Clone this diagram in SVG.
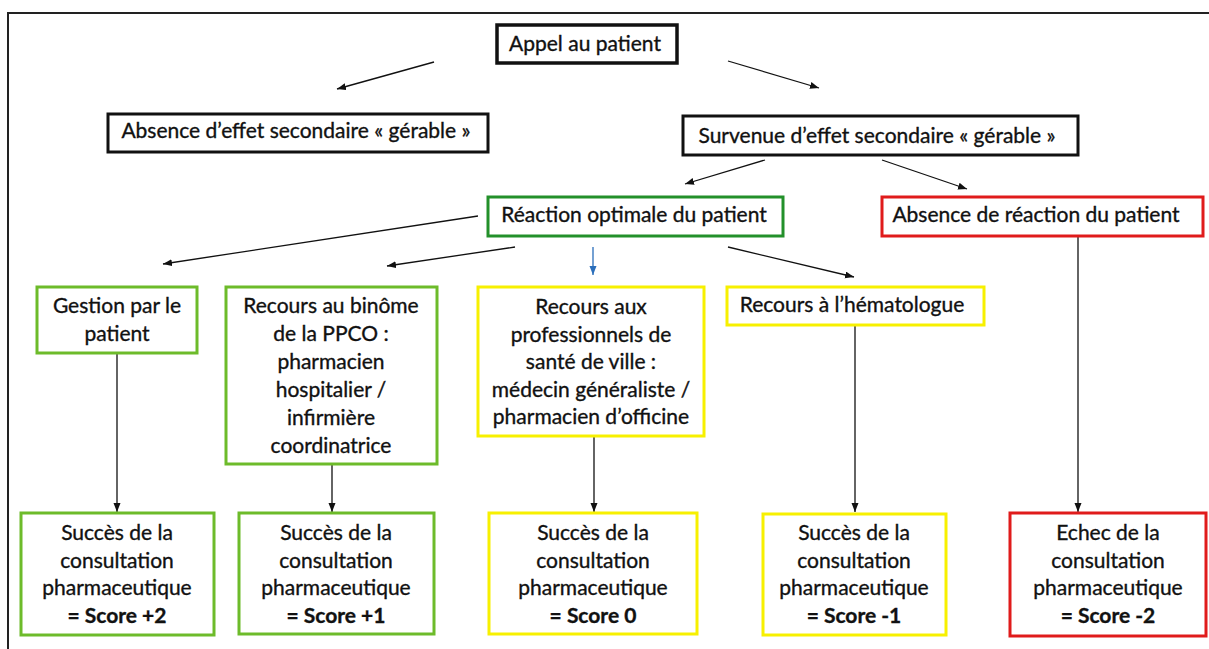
<svg xmlns="http://www.w3.org/2000/svg" width="1209" height="649" viewBox="0 0 1209 649">
<defs>
<marker id="ah" markerUnits="userSpaceOnUse" markerWidth="10" markerHeight="8" refX="9" refY="3.5" orient="auto"><path d="M0,0 L9,3.5 L0,7 z" fill="#111"/></marker>
<marker id="ahb" markerUnits="userSpaceOnUse" markerWidth="10" markerHeight="8" refX="9" refY="3.5" orient="auto"><path d="M0,0 L9,3.5 L0,7 z" fill="#2a6ebb"/></marker>
<style>
text{font-family:Lato,"Liberation Sans",sans-serif;font-size:21px;fill:#111;stroke:#111;stroke-width:0.35;text-anchor:middle}
.b{font-weight:bold}
.k{fill:#fff;stroke:#111;stroke-width:3}
.g{fill:#fff;stroke:#6dbb2a;stroke-width:3}
.dg{fill:#fff;stroke:#23902a;stroke-width:3}
.y{fill:#fff;stroke:#f7f000;stroke-width:3}
.r{fill:#fff;stroke:#e01b1b;stroke-width:3}
.c{stroke:#111;stroke-width:1.3;fill:none;marker-end:url(#ah)}
.cb{stroke:#2a6ebb;stroke-width:1.3;fill:none;marker-end:url(#ahb)}
</style>
</defs>
<rect x="0" y="0" width="1209" height="649" fill="#fff"/>
<rect id="frame" x="8" y="13" width="1220" height="660" fill="none" stroke="#222" stroke-width="2"/>

<g id="connectors">
<line class="c" x1="434" y1="62" x2="337" y2="89"/>
<line class="c" x1="728" y1="61" x2="819" y2="88"/>
<line class="c" x1="765" y1="160" x2="685" y2="184"/>
<line class="c" x1="882" y1="160" x2="967" y2="189"/>
<line class="c" x1="478" y1="216" x2="163" y2="264"/>
<line class="c" x1="515" y1="247" x2="387" y2="266"/>
<line class="cb" x1="593" y1="247" x2="593" y2="275"/>
<line class="c" x1="728" y1="247" x2="854" y2="277"/>
<line class="c" x1="1078" y1="237" x2="1078" y2="512"/>
<line class="c" x1="117" y1="354" x2="117" y2="512"/>
<line class="c" x1="332" y1="465" x2="332" y2="512"/>
<line class="c" x1="594" y1="437" x2="594" y2="512"/>
<line class="c" x1="855" y1="326" x2="855" y2="512"/>
</g>

<g id="n-appel"><rect class="k" x="497" y="25" width="180" height="38" style="stroke-width:3.5"/><text x="585" y="51">Appel au patient</text></g>
<g id="n-absence"><rect class="k" x="108" y="114" width="380" height="38"/><text x="296" y="138">Absence d’effet secondaire « gérable »</text></g>
<g id="n-survenue"><rect class="k" x="683" y="116" width="395" height="39"/><text x="877" y="143">Survenue d’effet secondaire « gérable »</text></g>
<g id="n-reaction"><rect class="dg" x="488" y="197" width="295" height="39"/><text x="634" y="222">Réaction optimale du patient</text></g>
<g id="n-absreaction"><rect class="r" x="882" y="197" width="321" height="39"/><text x="1036" y="222">Absence de réaction du patient</text></g>

<g id="n-gestion"><rect class="g" x="37" y="287" width="160" height="66"/><text x="117" y="313">Gestion par le</text><text x="117" y="341">patient</text></g>
<g id="n-binome"><rect class="g" x="226" y="287" width="211" height="177"/>
<text x="331" y="313">Recours au binôme</text><text x="331" y="341">de la PPCO :</text><text x="331" y="369">pharmacien</text><text x="331" y="397">hospitalier /</text><text x="331" y="425">infirmière</text><text x="331" y="453">coordinatrice</text></g>
<g id="n-ville"><rect class="y" x="478" y="287" width="226" height="149"/>
<text x="591" y="314">Recours aux</text><text x="591" y="341.5">professionnels de</text><text x="591" y="369">santé de ville :</text><text x="591" y="396.5">médecin généraliste /</text><text x="591" y="424">pharmacien d’officine</text></g>
<g id="n-hemato"><rect class="y" x="727" y="287" width="257" height="38"/><text x="852" y="312">Recours à l’hématologue</text></g>

<g id="n-s2"><rect class="g" x="21" y="513" width="193" height="122"/><text x="117" y="540">Succès de la</text><text x="117" y="567.5">consultation</text><text x="117" y="595">pharmaceutique</text><text class="b" x="117" y="622.5">= Score +2</text></g>
<g id="n-s1"><rect class="g" x="239" y="513" width="195" height="121"/><text x="336" y="540">Succès de la</text><text x="336" y="567.5">consultation</text><text x="336" y="595">pharmaceutique</text><text class="b" x="336" y="622.5">= Score +1</text></g>
<g id="n-s0"><rect class="y" x="489" y="513" width="208" height="121"/><text x="593" y="540">Succès de la</text><text x="593" y="567.5">consultation</text><text x="593" y="595">pharmaceutique</text><text class="b" x="593" y="622.5">= Score 0</text></g>
<g id="n-sm1"><rect class="y" x="763" y="514" width="183" height="121"/><text x="854" y="540">Succès de la</text><text x="854" y="567.5">consultation</text><text x="854" y="595">pharmaceutique</text><text class="b" x="854" y="622.5">= Score -1</text></g>
<g id="n-sm2"><rect class="r" x="1010" y="513" width="196" height="123"/><text x="1108" y="540">Echec de la</text><text x="1108" y="567.5">consultation</text><text x="1108" y="595">pharmaceutique</text><text class="b" x="1108" y="622.5">= Score -2</text></g>
</svg>
